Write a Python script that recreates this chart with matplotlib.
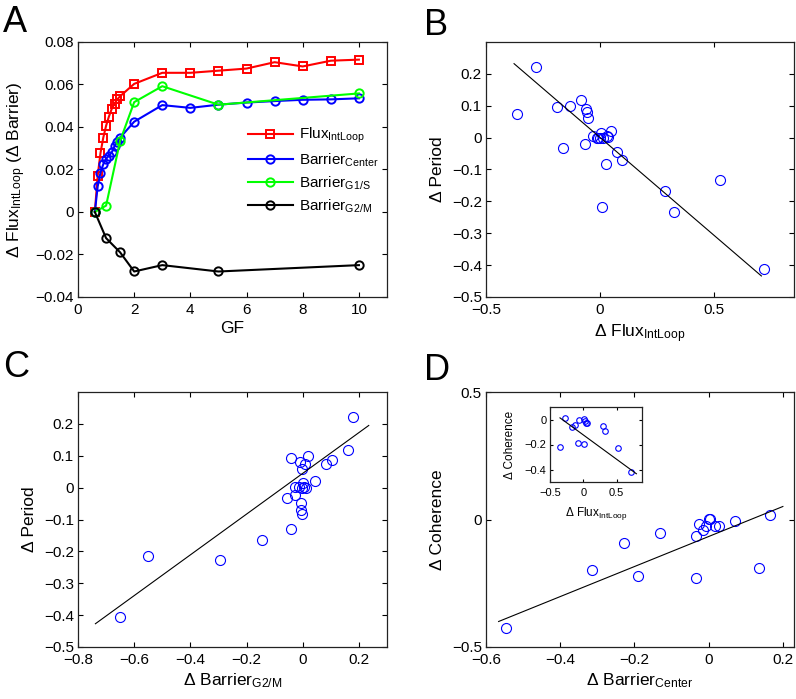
import matplotlib
matplotlib.use("Agg")
import matplotlib.pyplot as plt
from matplotlib.ticker import FuncFormatter

plt.rcParams["font.family"] = ["Liberation Sans", "DejaVu Sans"]
plt.rcParams["mathtext.fontset"] = "custom"
plt.rcParams["mathtext.rm"] = "Liberation Sans"
plt.rcParams["mathtext.it"] = "Liberation Sans:italic"
plt.rcParams["mathtext.bf"] = "Liberation Sans:bold"

# ---- panel A data ----
gf_fine = [0.6, 0.7, 0.8, 0.9, 1.0, 1.1, 1.2, 1.3, 1.4, 1.5, 2, 3, 4, 5, 6, 7, 8, 9, 10]
flux_intloop = [0, 0.017, 0.0277, 0.035, 0.0406, 0.0449, 0.0485, 0.051, 0.053, 0.0545,
                0.0603, 0.0655, 0.0655, 0.0665, 0.0675, 0.0705, 0.0685, 0.0712, 0.0717]
barrier_center = [0, 0.012, 0.0185, 0.0225, 0.025, 0.0265, 0.028, 0.031, 0.033, 0.035,
                  0.0425, 0.0503, 0.049, 0.0505, 0.0515, 0.0522, 0.0528, 0.053, 0.0535]
gf_coarse = [0.6, 1.0, 1.5, 2, 3, 5, 10]
barrier_g1s = [0, 0.003, 0.0335, 0.0517, 0.0592, 0.0505, 0.0558]
barrier_g2m = [0, -0.0123, -0.019, -0.028, -0.025, -0.028, -0.025]

# ---- panel B data ----
b_flux = [-0.28, -0.362, -0.188, -0.13, -0.083, -0.062, -0.058, -0.051, -0.162, -0.068,
          -0.029, -0.014, -0.007, 0.0, 0.004, 0.014, 0.029, 0.036, 0.049, 0.072,
          0.094, 0.025, 0.01, 0.283, 0.322, 0.525, 0.717]
b_period = [0.223, 0.074, 0.095, 0.1, 0.119, 0.089, 0.079, 0.06, -0.032, -0.021,
            0.005, 0.0, 0.0, 0.0, 0.016, 0.0, 0.005, 0.002, 0.021, -0.045,
            -0.071, -0.084, -0.218, -0.168, -0.232, -0.134, -0.413]
b_fit_x = [-0.377, 0.707]
b_fit_y = [0.232, -0.434]

# ---- panel C data ----
c_g2m = [0.179, 0.16, 0.104, 0.083, -0.043, -0.01, 0.017, 0.008, -0.004, 0.042,
         -0.027, -0.015, -0.004, 0.005, 0.002, 0.012, -0.055, -0.027, -0.007, -0.007,
         -0.004, -0.042, -0.144, -0.293, -0.551, -0.652]
c_period = [0.221, 0.117, 0.0875, 0.073, 0.094, 0.08, 0.099, 0.073, 0.059, 0.021,
            0.002, 0.002, 0.0, 0.002, 0.016, 0.0, -0.031, -0.022, -0.047, -0.069,
            -0.083, -0.13, -0.165, -0.227, -0.214, -0.406]
c_fit_x = [-0.738, 0.235]
c_fit_y = [-0.427, 0.195]

# ---- panel D data ----
d_center = [-0.545, -0.314, -0.229, -0.191, -0.13, -0.034, -0.033, -0.027, -0.015,
            -0.006, 0.0, 0.003, 0.018, 0.027, 0.072, 0.135, 0.166]
d_coherence = [-0.425, -0.197, -0.093, -0.222, -0.051, -0.229, -0.063, -0.017, -0.043,
               -0.026, 0.003, 0.003, -0.024, -0.024, -0.004, -0.19, 0.018]
d_fit_x = [-0.566, 0.2]
d_fit_y = [-0.4, 0.051]

# ---- inset data ----
i_flux = [-0.27, -0.35, -0.174, -0.124, -0.06, -0.075, 0.005, 0.025, 0.04, 0.05,
          0.015, 0.289, 0.323, 0.522, 0.711]
i_coherence = [0.013, -0.216, -0.063, -0.045, -0.005, -0.184, 0.008, -0.01, -0.026,
               -0.024, -0.197, -0.053, -0.092, -0.224, -0.418]
i_fit_x = [-0.35, 0.796]
i_fit_y = [0.013, -0.434]

W, H = 796, 699
fig = plt.figure(figsize=(W / 100, H / 100), dpi=100)

fmt = FuncFormatter(lambda v, p: ("%g" % round(v, 6)).replace("-", "\u2212"))


def add_ax(l, t, r, b):
    return fig.add_axes([l / W, 1 - b / H, (r - l) / W, (b - t) / H])


def style(ax, fs=11, xpad=4.5, ypad=3, length=3.5):
    ax.tick_params(direction="in", top=True, right=True, length=length,
                   width=0.8, labelsize=fs)
    ax.tick_params(axis="x", pad=xpad)
    ax.tick_params(axis="y", pad=ypad)
    ax.xaxis.set_major_formatter(fmt)
    ax.yaxis.set_major_formatter(fmt)
    for s in ax.spines.values():
        s.set_linewidth(0.9)
        s.set_color("#222222")


def scatter_panel(ax, x, y, fx, fy, ms=7.2):
    ax.plot(x, y, "o", ms=ms, mfc="none", mec="#0000ff", mew=0.8)
    ax.plot(fx, fy, "-", color="black", lw=0.8)


# A
axA = add_ax(78, 42, 387, 297)
axA.plot(gf_fine, flux_intloop, "-s", color="#ff0000", lw=1.5, ms=5.5, mfc="none", mew=1.4,
         label="Flux$_{\\mathrm{IntLoop}}$")
axA.plot(gf_fine, barrier_center, "-o", color="#0000ff", lw=1.5, ms=6, mfc="none", mew=1.4,
         label="Barrier$_{\\mathrm{Center}}$")
axA.plot(gf_coarse, barrier_g1s, "-o", color="#00ff00", lw=1.5, ms=6, mfc="none", mew=1.4,
         label="Barrier$_{\\mathrm{G1/S}}$")
axA.plot(gf_coarse, barrier_g2m, "-o", color="black", lw=1.5, ms=6, mfc="none", mew=1.4,
         label="Barrier$_{\\mathrm{G2/M}}$")
axA.set_xlim(0, 11)
axA.set_ylim(-0.04, 0.08)
axA.set_xticks([0, 2, 4, 6, 8, 10])
axA.set_yticks([-0.04, -0.02, 0, 0.02, 0.04, 0.06, 0.08])
style(axA)
axA.set_xlabel("GF", fontsize=12.5, labelpad=3)
axA.set_ylabel("\u0394 Flux$_{\\mathrm{IntLoop}}$ (\u0394 Barrier)", fontsize=12.5, labelpad=5)
axA.legend(loc="upper left", bbox_to_anchor=(0.55, 0.67), frameon=False, fontsize=11,
           handlelength=2.95, handletextpad=0.4, labelspacing=0.37, borderpad=0,
           borderaxespad=0)

# B
axB = add_ax(486, 42, 794, 297)
scatter_panel(axB, b_flux, b_period, b_fit_x, b_fit_y)
axB.set_xlim(-0.5, 0.85)
axB.set_ylim(-0.5, 0.3)
axB.set_xticks([-0.5, 0, 0.5])
axB.set_yticks([-0.5, -0.4, -0.3, -0.2, -0.1, 0, 0.1, 0.2])
style(axB)
axB.set_xlabel("\u0394 Flux$_{\\mathrm{IntLoop}}$", fontsize=12.5, labelpad=4)
axB.set_ylabel("\u0394 Period", fontsize=12.5, labelpad=5)

# C
axC = add_ax(78, 392, 387, 647)
scatter_panel(axC, c_g2m, c_period, c_fit_x, c_fit_y)
axC.set_xlim(-0.8, 0.3)
axC.set_ylim(-0.5, 0.3)
axC.set_xticks([-0.8, -0.6, -0.4, -0.2, 0, 0.2])
axC.set_yticks([-0.5, -0.4, -0.3, -0.2, -0.1, 0, 0.1, 0.2])
style(axC)
axC.set_xlabel("\u0394 Barrier$_{\\mathrm{G2/M}}$", fontsize=12.5, labelpad=3)
axC.set_ylabel("\u0394 Period", fontsize=12.5, labelpad=5)

# D
axD = add_ax(486, 392, 794, 647)
scatter_panel(axD, d_center, d_coherence, d_fit_x, d_fit_y)
axD.set_xlim(-0.6, 0.23)
axD.set_ylim(-0.5, 0.5)
axD.set_xticks([-0.6, -0.4, -0.2, 0, 0.2])
axD.set_yticks([-0.5, 0, 0.5])
style(axD)
axD.set_xlabel("\u0394 Barrier$_{\\mathrm{Center}}$", fontsize=12.5, labelpad=3)
axD.set_ylabel("\u0394 Coherence", fontsize=12.5, labelpad=5)

# inset
axI = add_ax(550, 407, 642, 482)
scatter_panel(axI, i_flux, i_coherence, i_fit_x, i_fit_y, ms=4)
axI.set_xlim(-0.5, 0.88)
axI.set_ylim(-0.5, 0.1)
axI.set_xticks([-0.5, 0, 0.5])
axI.set_yticks([-0.4, -0.2, 0])
style(axI, fs=8, xpad=4, ypad=2.5, length=2.5)
axI.set_xlabel("\u0394 Flux$_{\\mathrm{IntLoop}}$", fontsize=8.5, labelpad=5)
axI.set_ylabel("\u0394 Coherence", fontsize=8.5, labelpad=6)

# panel letters
for letter, px, py in [("A", 3, 32), ("B", 424, 35), ("C", 3, 377), ("D", 424, 380)]:
    fig.text(px / W, 1 - py / H, letter, fontsize=26, ha="left", va="baseline")

fig.savefig("out.png", dpi=100)
